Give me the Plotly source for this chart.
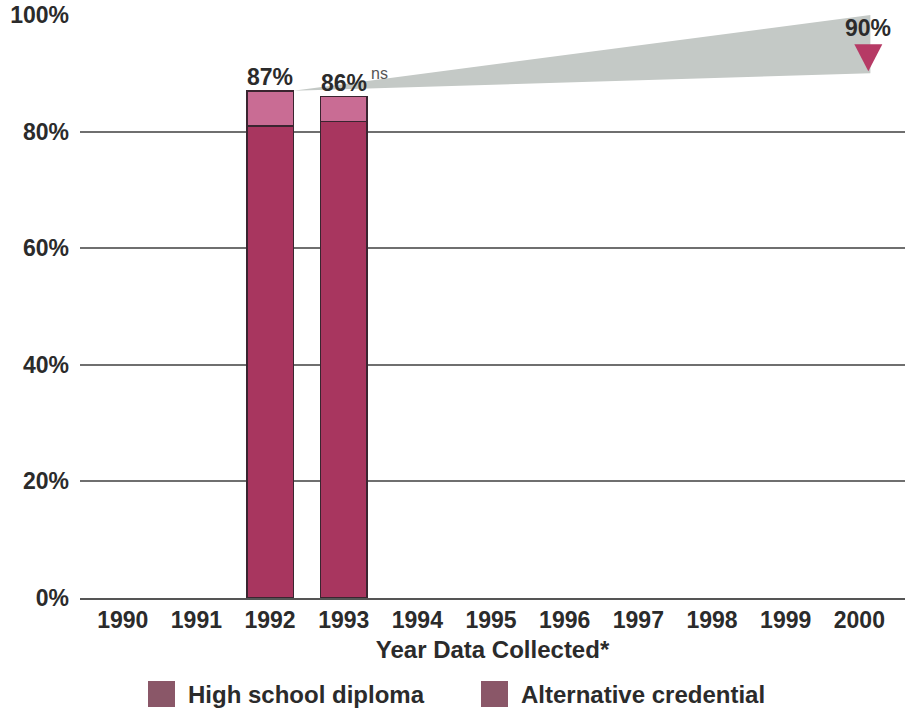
import plotly.graph_objects as go

# Survey years shown on the axis
years = [1990, 1991, 1992, 1993, 1994, 1995, 1996, 1997, 1998, 1999, 2000]
tick_labels = [str(y) for y in years]

# Completion rates by year collected (percent)
bar_years = [1992, 1993]
diploma = [81, 81.7]            # high school diploma
total = [87, 86]                # diploma + alternative credential
alternative = [t - d for t, d in zip(total, diploma)]
total_labels = ["87%", "86%"]

# Year 2000 goal
goal_year = 2000
goal_value = 90
goal_label = "90%"

y_ticks = [0, 20, 40, 60, 80, 100]
y_tick_labels = ["0%", "20%", "40%", "60%", "80%", "100%"]

FONT = "Liberation Sans, Arial, sans-serif"
TXT = "#2b2b2b"
DARK = "#a8365f"
LIGHT = "#c96c94"
LEG = "#8a5768"
WEDGE = "#c4c9c6"
GOAL = "#b63a65"
BAR_W = 0.63

# plot-area geometry in pixels (used to place the hand-drawn legend)
PL, PR, PT, PB = 80, 905, 15, 598

fig = go.Figure()

# Gray wedge from the 1992 rate toward the goal band
wedge_x = [bar_years[0] + BAR_W / 2, goal_year + 0.15, goal_year + 0.15]
wedge_y = [total[0], 100, goal_value]
fig.add_trace(go.Scatter(
    x=wedge_x, y=wedge_y, fill="toself", mode="lines",
    line=dict(width=0), fillcolor=WEDGE, hoverinfo="skip", showlegend=False,
))

fig.add_trace(go.Bar(
    x=bar_years, y=diploma, width=BAR_W, name="High school diploma",
    marker=dict(color=DARK, line=dict(color="#3a2530", width=1.5)),
    showlegend=False,
))
fig.add_trace(go.Bar(
    x=bar_years, y=alternative, width=BAR_W, name="Alternative credential",
    marker=dict(color=LIGHT, line=dict(color="#3a2530", width=1.5)),
    showlegend=False,
))

annotations = []
for yr, t, lab in zip(bar_years, total, total_labels):
    annotations.append(dict(
        x=yr, y=t, xref="x", yref="y", text=f"<b>{lab}</b>",
        showarrow=False, yanchor="bottom", yshift=-1,
        font=dict(family=FONT, size=23, color=TXT),
    ))
# "ns" superscript on the 1993 value
annotations.append(dict(
    x=bar_years[1], y=total[1], xref="x", yref="y", text="ns",
    showarrow=False, xanchor="left", yanchor="bottom", xshift=25, yshift=13,
    font=dict(family=FONT, size=16, color="#555555"),
))
# Goal label
annotations.append(dict(
    x=goal_year, y=goal_value, xref="x", yref="y", text=f"<b>{goal_label}</b>",
    showarrow=False, yanchor="bottom", xshift=9, yshift=30,
    font=dict(family=FONT, size=23, color=TXT),
))

# Goal marker: downward triangle whose tip sits on the goal value
shapes = [dict(
    type="path", xref="x", yref="y", xsizemode="pixel", ysizemode="pixel",
    xanchor=goal_year, yanchor=goal_value,
    path="M 9,2 L -5,29 L 23,29 Z",
    fillcolor=GOAL, line=dict(width=0),
)]


def px_x(v):
    return (v - PL) / (PR - PL)


def px_y(v):
    return (PB - v) / (PB - PT)


# Legend drawn below the axis title
legend_items = [("High school diploma", 148), ("Alternative credential", 481)]
for text, x0 in legend_items:
    shapes.append(dict(
        type="rect", xref="paper", yref="paper",
        x0=px_x(x0), x1=px_x(x0 + 27),
        y0=px_y(707), y1=px_y(681),
        fillcolor=LEG, line=dict(width=0),
    ))
    annotations.append(dict(
        x=px_x(x0 + 38), y=px_y(694),
        xref="paper", yref="paper", text=f"<b>{text}</b>",
        showarrow=False, xanchor="left", yanchor="middle",
        font=dict(family=FONT, size=24, color=TXT),
    ))

fig.update_layout(
    width=906, height=713,
    margin=dict(l=PL, r=906 - PR, t=PT, b=713 - PB),
    paper_bgcolor="white", plot_bgcolor="white",
    barmode="stack", showlegend=False,
    font=dict(family=FONT, size=23, color=TXT),
    annotations=annotations, shapes=shapes,
    xaxis=dict(
        range=[1989.42, 2000.62], tickmode="array", tickvals=years,
        ticktext=[f"<b>{t}</b>" for t in tick_labels],
        showgrid=False, zeroline=False, showline=True,
        linecolor="#555555", linewidth=2, ticks="",
        tickfont=dict(family=FONT, size=23, color=TXT),
        title=dict(text="<b>Year Data Collected*</b>", standoff=10,
                   font=dict(family=FONT, size=24, color=TXT)),
    ),
    yaxis=dict(
        range=[0, 100], tickmode="array", tickvals=y_ticks,
        ticktext=[f"<b>{t}</b>" for t in y_tick_labels],
        showgrid=True, gridcolor="#6f6f6f", gridwidth=1.5,
        zeroline=False, showline=False, ticks="",
        ticklabelstandoff=10,
        tickfont=dict(family=FONT, size=23, color=TXT),
    ),
)

fig.write_html("out.html")
